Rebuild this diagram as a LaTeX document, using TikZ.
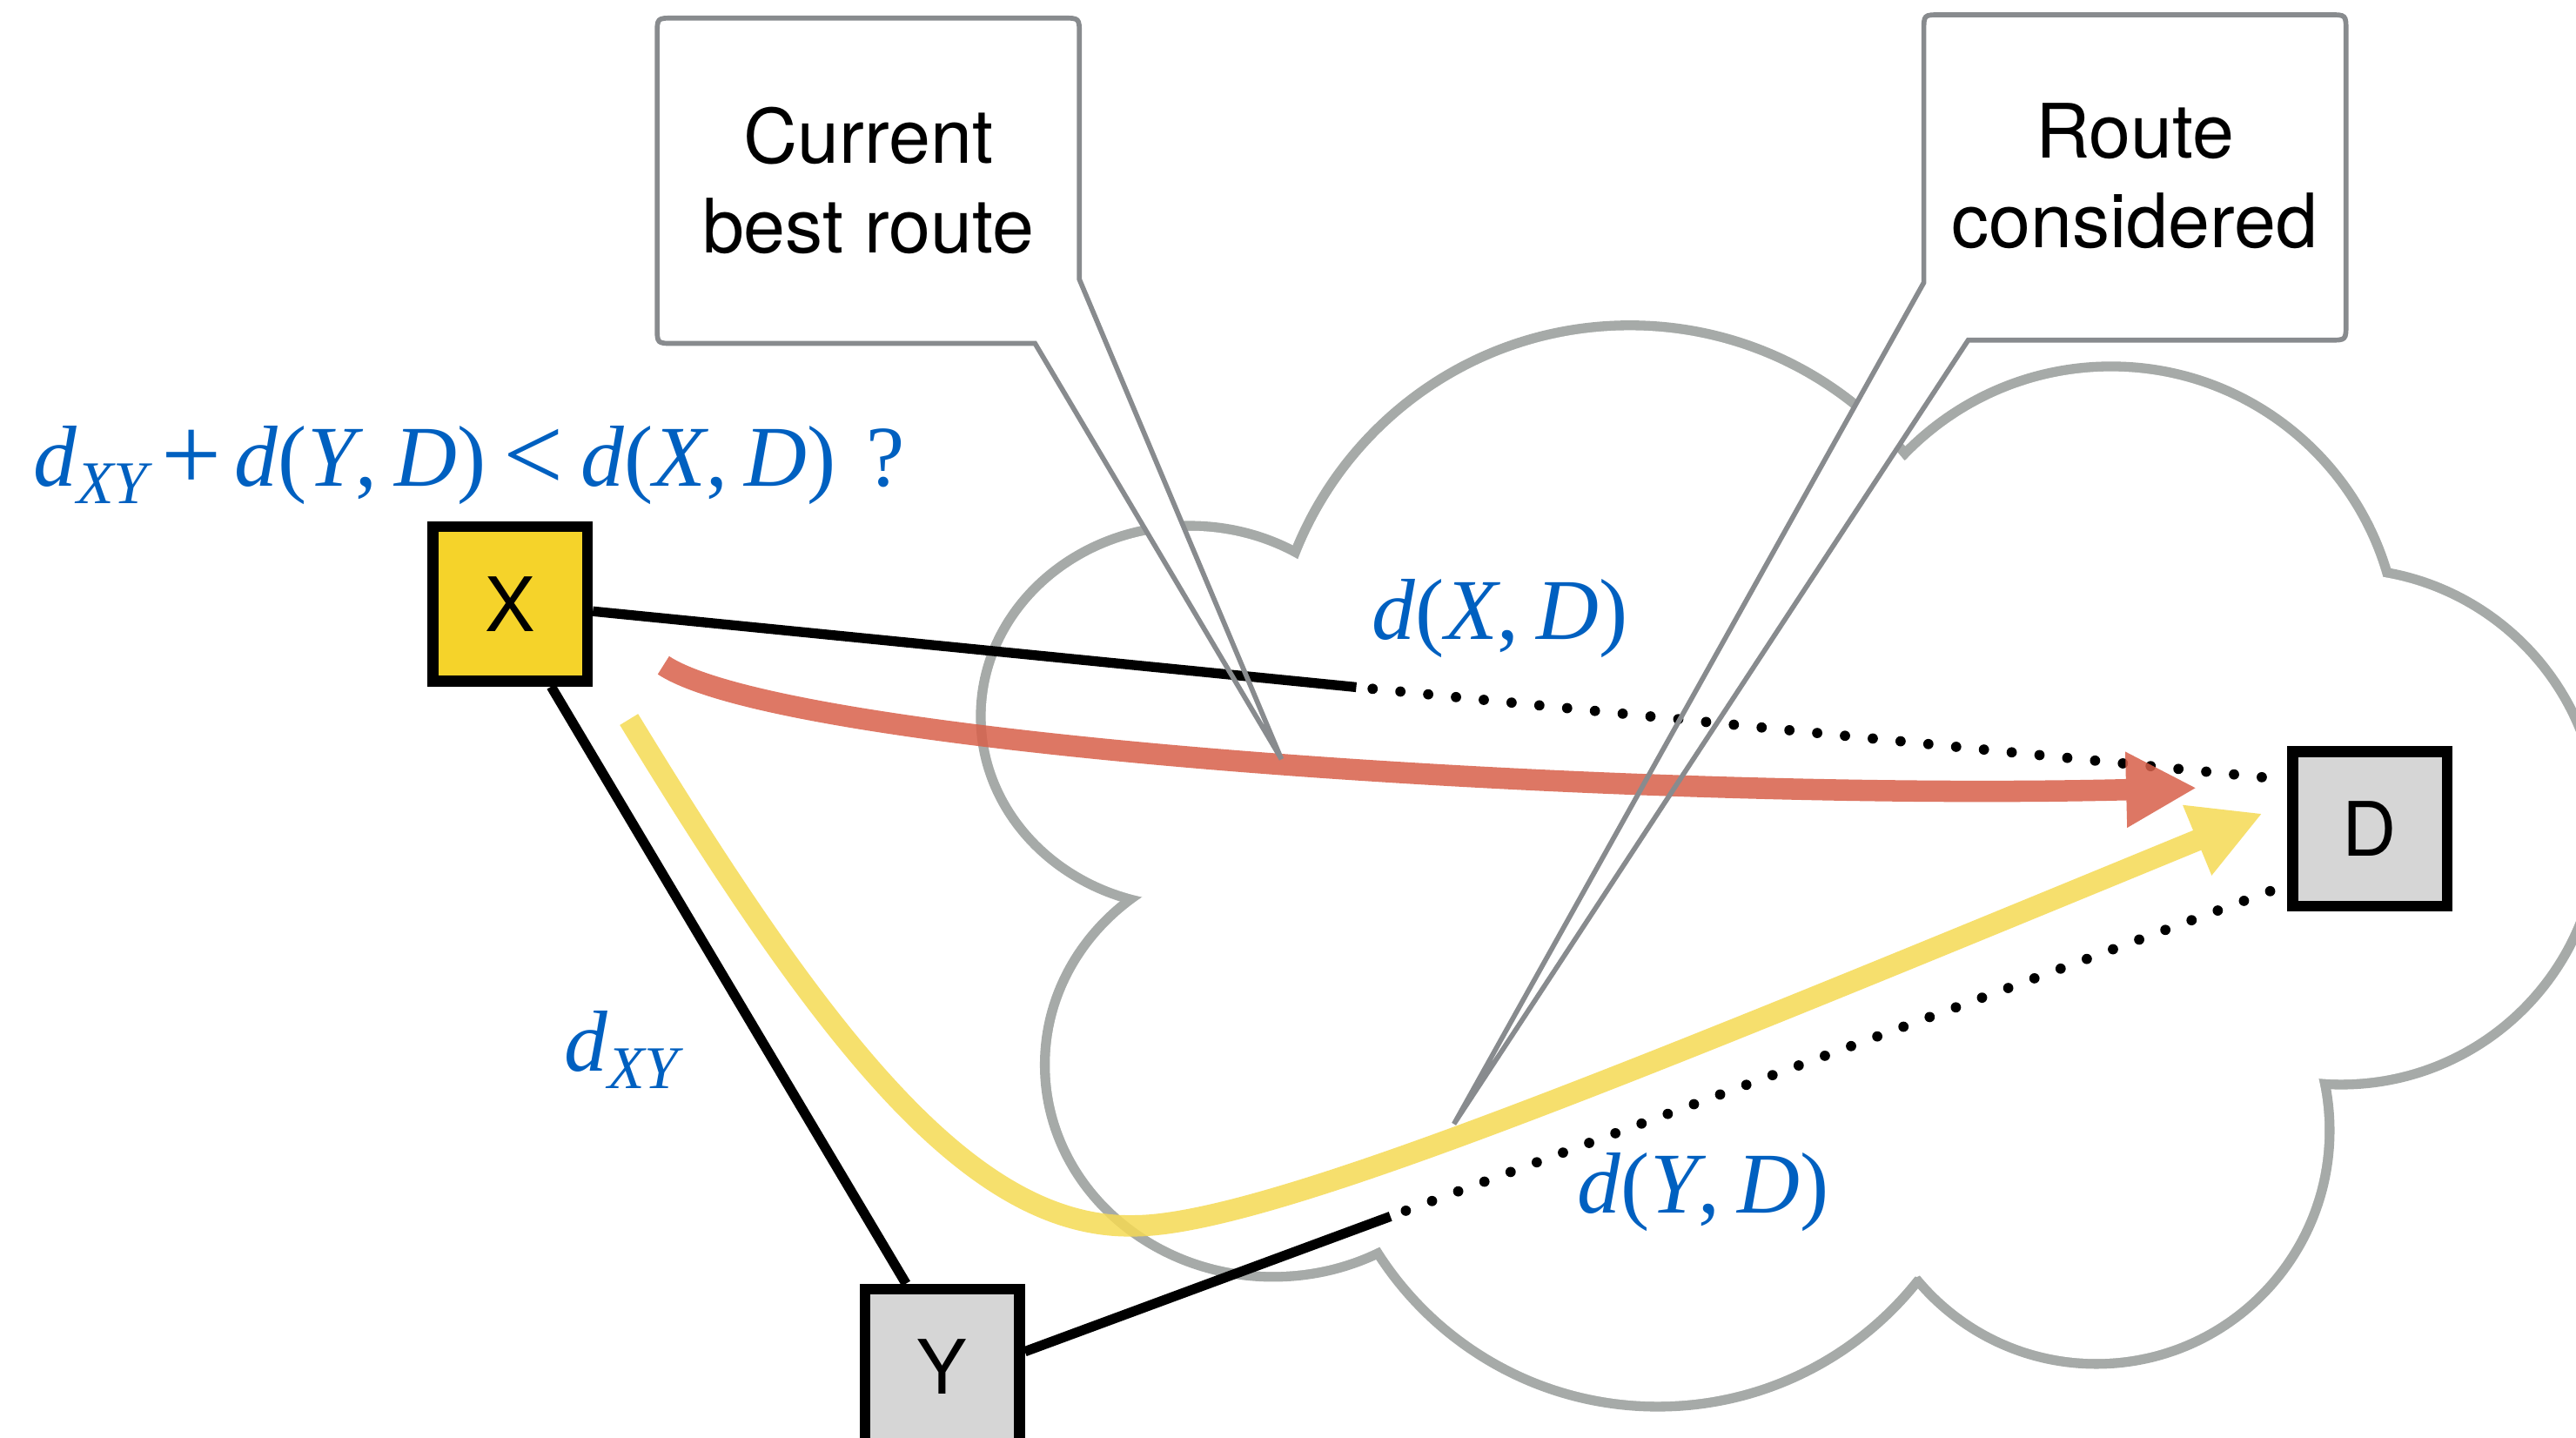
\documentclass[tikz,border=0pt]{standalone}
\usepackage{fontspec}
\setmainfont{TeX Gyre Heros}
\newfontfamily\mathserif{Liberation Serif}
\usetikzlibrary{arrows.meta,calc}

\definecolor{cloudgrey}{RGB}{166,170,168}
\definecolor{calloutgrey}{RGB}{136,139,142}
\definecolor{routered}{RGB}{216,96,74}
\definecolor{routeyellow}{RGB}{245,218,84}
\definecolor{nodeyellow}{RGB}{245,211,42}
\definecolor{nodegrey}{RGB}{214,214,214}
\definecolor{mathblue}{RGB}{0,96,192}

% italic variable, distance d(a,b), the subscripted d_XY and larger relation signs
\newcommand\var[1]{\textit{#1}}
\newcommand\distfn[2]{\var{d}(\var{#1},\kern0.2em\var{#2})}
\newcommand\dxy{\var{d}\raisebox{-6pt}{\fontsize{21}{21}\selectfont\var{XY}}}
\newcommand\bigsign[1]{\raisebox{-1.5pt}{\fontsize{37}{37}\selectfont #1}}

% outlines of the two speech bubbles
\newcommand\bubbleA{(657,170) -- (657,21) .. controls (657,11) .. (647,11) -- (410,11)
  .. controls (400,11) .. (400,21) -- (400,199) .. controls (400,209) .. (410,209)
  -- (630,209) -- (tipA) -- cycle}
\newcommand\bubbleB{(1171,172) -- (1171,19) .. controls (1171,9) .. (1181,9) -- (1418,9)
  .. controls (1428,9) .. (1428,19) -- (1428,197) .. controls (1428,207) .. (1418,207)
  -- (1198,207) -- (tipB) -- cycle}

\begin{document}
\begin{tikzpicture}[x=0.02cm,y=-0.02cm,
  box/.style={draw=black,line width=0.134cm,minimum size=1.88cm,inner sep=0pt,
    font=\fontsize{26}{31}\selectfont},
  edge/.style={line width=0.12cm},
  dotline/.style={line width=0.125cm,line cap=round,dash pattern=on 0pt off 0.34cm,dash phase=0.14cm},
  route/.style={line width=0.26cm,-{Triangle[length=0.86cm,width=0.86cm]}},
  mathlabel/.style={text=mathblue,font=\mathserif\fontsize{30}{36}\selectfont,inner sep=0pt,anchor=base west},
  calloutline/.style={draw=calloutgrey,line width=0.06cm},
  callouttext/.style={align=center,inner sep=0pt,font=\fontsize{26}{31}\selectfont}
]
\useasboundingbox (0,0) rectangle (1568,875);
\clip (0,0) rectangle (1568,875);

% cloud: union of lobes (double-width stroke, then white interior)
\def\lobes{724/436/124/113, 775/648/136/126, 992/417/216/216, 1285/398/172/172,
  1425/503/154/154, 1276/688/139/139, 1009/654/199/199}
\foreach \cx/\cy/\rx/\ry in \lobes
  \draw[cloudgrey,line width=0.24cm] (\cx,\cy) ellipse [x radius=\rx, y radius=\ry];
\foreach \cx/\cy/\rx/\ry in \lobes
  \fill[white] (\cx,\cy) ellipse [x radius=\rx, y radius=\ry];
\fill[white] (703,547) -- (795,341) -- (1160,280) -- (1441,350) -- (1409,656)
  -- (1167,777) -- (841,757) -- cycle;

% bubble tips
\coordinate (tipA) at (780,462);
\coordinate (tipB) at (885,684);
\fill[white] \bubbleA;
\fill[white] \bubbleB;

% routers
\node[box,fill=nodeyellow] (X) at (310.5,367.5) {X};
\node[box,fill=nodegrey]   (Y) at (573.5,831.5) {Y};
\node[box,fill=nodegrey]   (D) at (1442.5,504.5) {D};

% links and estimated distances
\path ($(X.east)+(0,4.5)$) coordinate (xd0) -- coordinate[pos=0.4506] (xdm) ($(D.west)+(0,-30)$) coordinate (xd1);
\path ($(Y.east)+(0,-9)$) coordinate (yd0) -- coordinate[pos=0.2896] (ydm) ($(D.west)+(0,34)$) coordinate (yd1);
\draw[edge] (xd0) -- (xdm);
\draw[dotline] (xdm) -- (xd1);
\draw[edge] (yd0) -- (ydm);
\draw[dotline] (ydm) -- (yd1);
\draw[edge] ($(X.south)+(25,0)$) -- ($(Y.north)+(-22,0)$);

% routes
\begin{scope}[transparency group,opacity=0.85]
\draw[route,routered] ($(X.south east)+(43,-13)$) .. controls (480,455) and (1000,488) .. ($(D.west)+(-55,-25)$);
\end{scope}
\begin{scope}[transparency group,opacity=0.85]
\draw[route,routeyellow] ($(X.south east)+(22,20)$) .. controls (500,630) and (590,748) .. (690,746)
  .. controls (770,746) and (1000,650) .. ($(D.west)+(-15,-9.5)$);
\end{scope}

% speech bubbles
\draw[calloutline] \bubbleA;
\draw[calloutline] \bubbleB;
\node[callouttext] (best) at (528.5,110) {Current\\best route};
\node[callouttext] (cons) at (1299.5,107) {Route\\considered};

% labels
\node[mathlabel] (cond) at (20,296) {\dxy\kern0.1em\bigsign{+}\kern0.15em\distfn{Y}{D}\kern0.2em\bigsign{<}\kern0.2em\distfn{X}{D}\kern0.35em?};
\node[mathlabel] (lxd) at (835,389) {\distfn{X}{D}};
\node[mathlabel] (lyd) at (960,738) {\distfn{Y}{D}};
\node[mathlabel] (lxy) at (343,652) {\dxy};
\end{tikzpicture}
\end{document}
